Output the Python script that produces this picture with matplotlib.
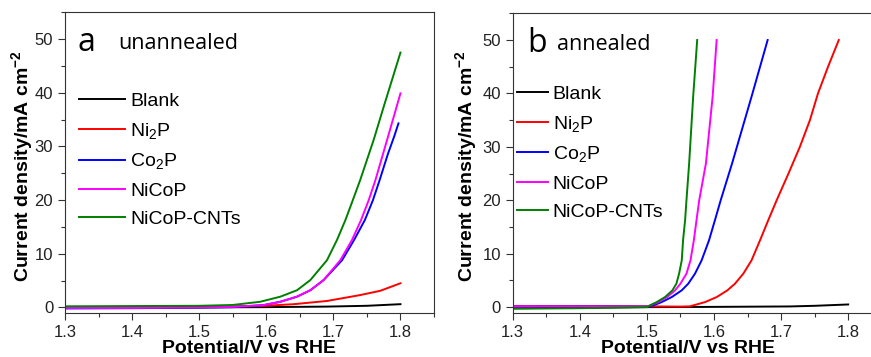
import numpy as np
import matplotlib
matplotlib.use('Agg')
import matplotlib.pyplot as plt
from matplotlib.ticker import MultipleLocator

plt.rcParams['font.family'] = ['Liberation Sans', 'DejaVu Sans']
plt.rcParams['mathtext.default'] = 'regular'

'''
data read off the LSV curves
'''

names = ['Blank', 'Ni$_2$P', 'Co$_2$P', 'NiCoP', 'NiCoP-CNTs']
colors = ['black', 'red', 'blue', 'magenta', 'green']

# unannealed (panel a)
ua_blank_v = [1.3, 1.4, 1.5, 1.6, 1.69, 1.75, 1.8]
ua_blank_j = [-0.1, -0.05, 0.0, 0.05, 0.15, 0.3, 0.6]
ua_ni2p_v = [1.3, 1.4, 1.5, 1.55, 1.591, 1.641, 1.6905, 1.74, 1.77, 1.8]
ua_ni2p_j = [0.05, 0.1, 0.15, 0.2, 0.25, 0.6, 1.2, 2.3, 3.1, 4.5]
ua_co2p_v = [1.3, 1.4, 1.5, 1.55, 1.596, 1.621, 1.6458, 1.6657, 1.6855, 1.713, 1.731, 1.747, 1.759, 1.769, 1.781, 1.791, 1.797]
ua_co2p_j = [-0.2, -0.15, -0.05, 0.05, 0.43, 1.05, 2.0, 3.2, 5.1, 8.8, 12.6, 16.3, 20.0, 23.75, 28.5, 32, 34.3]
ua_nicop_v = [1.3, 1.4, 1.5, 1.55, 1.596, 1.621, 1.6458, 1.6657, 1.6855, 1.7104, 1.7279, 1.7413, 1.7527, 1.7627, 1.78, 1.8]
ua_nicop_j = [-0.1, -0.1, 0.0, 0.1, 0.43, 1.05, 2.0, 3.2, 5.1, 8.8, 12.6, 16.3, 20.0, 23.75, 31.2, 39.9]
ua_cnt_v = [1.3, 1.4, 1.5, 1.55, 1.591, 1.621, 1.6458, 1.6657, 1.6905, 1.7055, 1.718, 1.729, 1.74, 1.76, 1.775, 1.8]
ua_cnt_j = [0.2, 0.25, 0.3, 0.45, 1.05, 2.0, 3.2, 5.1, 8.8, 12.6, 16.3, 20.0, 23.75, 31.2, 37.4, 47.5]

# annealed (panel b)
an_blank_v = [1.3, 1.4, 1.5, 1.6, 1.713, 1.75, 1.8]
an_blank_j = [-0.2, -0.1, 0.0, 0.05, 0.13, 0.25, 0.5]
an_ni2p_v = [1.3, 1.4, 1.5, 1.55, 1.564, 1.5866, 1.604, 1.6198, 1.6313, 1.6437, 1.656, 1.6686, 1.681, 1.6934, 1.711, 1.728, 1.743, 1.755, 1.77, 1.786]
an_ni2p_j = [0.2, 0.2, 0.15, 0.1, 0.15, 0.94, 1.88, 3.13, 4.39, 6.26, 8.76, 12.5, 16.3, 20, 25, 30, 35, 40, 45, 50]
an_co2p_v = [1.3, 1.4, 1.5, 1.5096, 1.522, 1.537, 1.5518, 1.5617, 1.5717, 1.5816, 1.5926, 1.6015, 1.61, 1.627, 1.656, 1.68]
an_co2p_j = [0.1, 0.15, 0.1, 0.32, 0.94, 1.88, 3.13, 4.39, 6.26, 8.76, 12.5, 16.3, 20, 26.9, 39.4, 50]
an_nicop_v = [1.3, 1.4, 1.5, 1.5046, 1.517, 1.53, 1.542, 1.55, 1.559, 1.565, 1.57, 1.574, 1.578, 1.588, 1.598, 1.604]
an_nicop_j = [0.15, 0.15, 0.1, 0.32, 0.94, 1.88, 3.13, 4.39, 6.26, 8.76, 12.5, 16.3, 20, 26.9, 39.4, 50]
an_cnt_v = [1.3, 1.4, 1.5, 1.5046, 1.5146, 1.527, 1.538, 1.544, 1.548, 1.552, 1.554, 1.557, 1.559, 1.563, 1.569, 1.575]
an_cnt_j = [-0.3, -0.2, 0.0, 0.32, 0.94, 1.88, 3.13, 4.39, 6.26, 8.76, 12.6, 16.3, 20, 26.9, 39.4, 50]

unannealed = [(ua_blank_v, ua_blank_j), (ua_ni2p_v, ua_ni2p_j), (ua_co2p_v, ua_co2p_j),
              (ua_nicop_v, ua_nicop_j), (ua_cnt_v, ua_cnt_j)]
annealed = [(an_blank_v, an_blank_j), (an_ni2p_v, an_ni2p_j), (an_co2p_v, an_co2p_j),
            (an_nicop_v, an_nicop_j), (an_cnt_v, an_cnt_j)]

'''
figure
'''

fig = plt.figure(figsize=(8.71, 3.57), dpi=100)
ax0 = fig.add_axes([0.0746, 0.1224, 0.4237, 0.8431])
ax1 = fig.add_axes([0.5886, 0.1232, 0.4237, 0.8395])

spine_col = '#333333'

def style_axes(ax, letter, title, letter_x, title_x, hl, xlab_x, ylab_x, leg_x, leg_y):
    ax.set_xlim(1.3, 1.85)
    ax.set_ylim(-1.1, 55)
    ax.xaxis.set_major_locator(MultipleLocator(0.1))
    ax.xaxis.set_minor_locator(MultipleLocator(0.05))
    ax.yaxis.set_major_locator(MultipleLocator(10))
    ax.yaxis.set_minor_locator(MultipleLocator(5))
    ax.tick_params(which='major', direction='out', length=5, width=0.8, colors=spine_col,
                   labelsize=12, labelcolor='#222222')
    ax.tick_params(which='minor', direction='out', length=3, width=0.8, colors=spine_col)
    ax.set_xticks(np.arange(1.3, 1.81, 0.1))
    ax.set_xticklabels(['1.3', '1.4', '1.5', '1.6', '1.7', '1.8'])
    for s in ax.spines.values():
        s.set_color(spine_col)
        s.set_linewidth(0.8)
    ax.set_xlabel('Potential/V vs RHE', fontsize=14, fontweight='bold')
    ax.set_ylabel('Current density/mA cm$^{-2}$', fontsize=14, fontweight='bold')
    ax.xaxis.set_label_coords(xlab_x, -0.09)
    ax.yaxis.set_label_coords(ylab_x, 0.49)
    ax.text(letter_x, 0.87, letter, transform=ax.transAxes, fontsize=23,
            family='Open Sans', va='baseline')
    ax.text(title_x, 0.878, title, transform=ax.transAxes, fontsize=15.5,
            family='Open Sans', va='baseline')
    ax.legend(loc='upper left', bbox_to_anchor=(leg_x, leg_y), frameon=False, fontsize=14,
              handlelength=hl, handletextpad=0.25, labelspacing=0.55, borderaxespad=0.0,
              borderpad=0.2)

for (v, j), n, c in zip(unannealed, names, colors):
    ax0.plot(v, j, color=c, lw=1.4, label=n, solid_joinstyle='round')
for (v, j), n, c in zip(annealed, names, colors):
    ax1.plot(v, j, color=c, lw=1.4, label=n, solid_joinstyle='round')

style_axes(ax0, 'a', 'unannealed', 0.035, 0.144, 2.4, 0.5, -0.08, 0.027, 0.747)
style_axes(ax1, 'b', 'annealed', 0.040, 0.121, 1.6, 0.475, -0.09, 0.0, 0.773)
ax1.spines['right'].set_visible(False)

fig.savefig('out.png', dpi=100)
